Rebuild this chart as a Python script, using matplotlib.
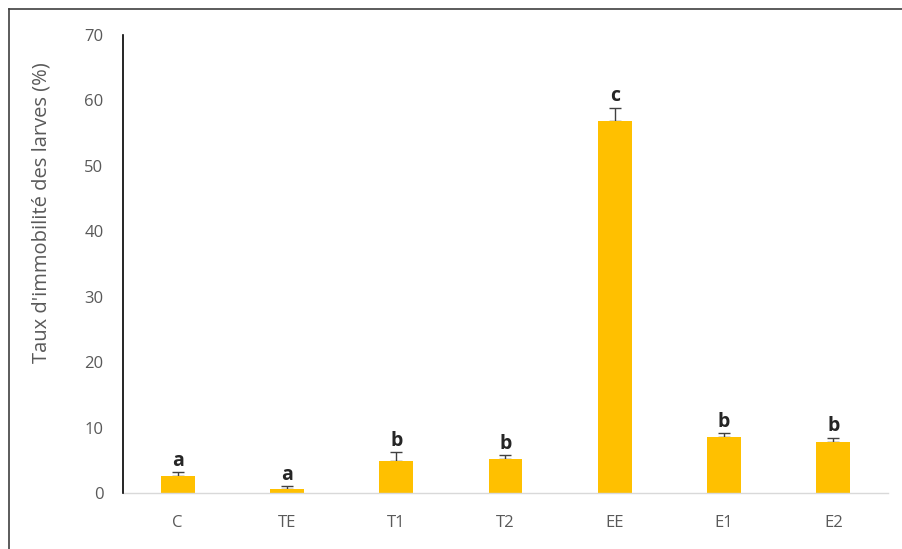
import matplotlib.pyplot as plt
from matplotlib.lines import Line2D
import numpy as np

traitements = ['C', 'TE', 'T1', 'T2', 'EE', 'E1', 'E2']
taux = [2.65, 0.7, 5.0, 5.25, 56.8, 8.6, 7.9]
erreur = [0.6, 0.4, 1.3, 0.6, 2.1, 0.6, 0.6]
lettres = ['a', 'a', 'b', 'b', 'c', 'b', 'b']

plt.rcParams['font.family'] = ['Open Sans', 'DejaVu Sans']

fig = plt.figure(figsize=(9.03, 5.49), dpi=100)
ax = fig.add_axes([0.1362, 0.1015, 0.8472, 0.8347])

x = np.arange(len(traitements))
ax.bar(x, taux, width=0.31, color='#FFC000', zorder=2)
# barres d'erreur positives seulement, la partie basse reste sous la barre
ax.errorbar(x, taux, yerr=[np.zeros(len(erreur)), erreur], fmt='none',
            ecolor='#404040', elinewidth=1, capsize=4, capthick=1, zorder=1)

for xi, v, e, l in zip(x, taux, erreur, lettres):
    ax.annotate(l, (xi, v + e), xytext=(0, 1), textcoords='offset points',
                ha='center', va='bottom', fontsize=14, fontweight='bold',
                color='#262626')

ax.set_xlim(-0.5, len(traitements) - 0.5)
ax.set_ylim(0, 70)
ax.set_yticks(range(0, 71, 10))
ax.set_xticks(x)
ax.set_xticklabels(traitements)
ax.tick_params(length=0, labelsize=12, labelcolor='#595959')
ax.tick_params(axis='y', pad=14)
ax.tick_params(axis='x', pad=16)

for s in ['top', 'right']:
    ax.spines[s].set_visible(False)
ax.spines['left'].set_color('black')
ax.spines['left'].set_linewidth(1.2)
ax.spines['left'].set_zorder(3)
ax.spines['bottom'].set_color('#D9D9D9')
ax.spines['bottom'].set_linewidth(1)

ax.set_ylabel("Taux d'immobilité des larves (%)", fontsize=14.5,
              color='#595959')
ax.yaxis.set_label_coords(-0.094, 0.612)

# cadre (haut et gauche)
fig.add_artist(Line2D([9 / 903, 9 / 903], [0, 1 - 9 / 549],
                      transform=fig.transFigure, color='#404040', lw=1.2))
fig.add_artist(Line2D([9 / 903, 1], [1 - 9 / 549, 1 - 9 / 549],
                      transform=fig.transFigure, color='#404040', lw=1.2))

fig.savefig('out.png', dpi=100)
